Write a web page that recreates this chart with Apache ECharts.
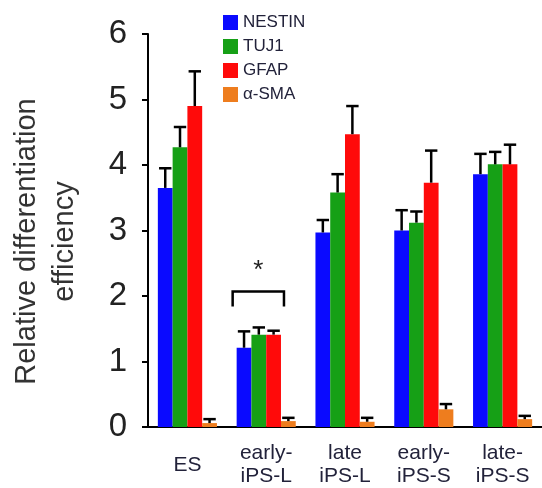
<!DOCTYPE html>
<html>
<head>
<meta charset="utf-8">
<script src="https://cdn.jsdelivr.net/npm/echarts@6/dist/echarts.min.js"></script>
<style>
  html, body { margin: 0; padding: 0; background: #fff; }
  #chart { width: 542px; height: 488px; }
</style>
</head>
<body>
<div id="chart"></div>
<script>
const categories = ['ES', 'early-\niPS-L', 'late\niPS-L', 'early-\niPS-S', 'late-\niPS-S']
const seriesNames = ['NESTIN', 'TUJ1', 'GFAP', 'α-SMA']
const colors = ['#0a0aff', '#16a016', '#ff0a0a', '#ee7d1e']

// bar means
const nestin = [3.65, 1.21, 2.97, 3.0, 3.86]
const tuj1 = [4.27, 1.41, 3.58, 3.12, 4.01]
const gfap = [4.9, 1.41, 4.47, 3.73, 4.01]
const sma = [0.06, 0.09, 0.08, 0.27, 0.12]

// top of the error bars
const nestinErr = [3.95, 1.46, 3.16, 3.31, 4.17]
const tuj1Err = [4.58, 1.52, 3.86, 3.29, 4.2]
const gfapErr = [5.43, 1.47, 4.9, 4.22, 4.31]
const smaErr = [0.12, 0.14, 0.14, 0.35, 0.17]

// significance bracket over early-iPS-L
const bracketTop = 2.07
const bracketFoot = 1.84
const starLabel = '*'

const means = [nestin, tuj1, gfap, sma]
const tops = [nestinErr, tuj1Err, gfapErr, smaErr]

const font = "'Liberation Sans', Arial, sans-serif"
const chart = echarts.init(document.getElementById('chart'))

const gapRatio = 0.25
function barShift(api, idx) {
  const catW = api.size([1, 0])[0]
  const barW = catW * (1 - gapRatio) / 4
  return { barW, dx: (idx - 1.5) * barW }
}

const barSeries = seriesNames.map((name, i) => ({
  name,
  type: 'bar',
  data: means[i],
  barGap: '0%',
  barCategoryGap: '25%',
  itemStyle: { color: colors[i] },
  z: 2
}))

const errSeries = seriesNames.map((name, i) => ({
  type: 'custom',
  name: name + '-err',
  data: means[i].map((v, k) => [k, v, tops[i][k]]),
  z: 3,
  silent: true,
  renderItem: function (params, api) {
    const s = barShift(api, i)
    const p0 = api.coord([api.value(0), api.value(1)])
    const p1 = api.coord([api.value(0), api.value(2)])
    const x = p0[0] + s.dx
    const half = s.barW * 0.42
    return {
      type: 'group',
      children: [
        { type: 'line', shape: { x1: x, y1: p0[1], x2: x, y2: p1[1] }, style: { stroke: '#000', lineWidth: 2.5 } },
        { type: 'line', shape: { x1: x - half, y1: p1[1], x2: x + half, y2: p1[1] }, style: { stroke: '#000', lineWidth: 2.5 } }
      ]
    }
  }
}))

const bracketSeries = {
  type: 'custom',
  name: 'bracket',
  data: [[1, bracketTop, bracketFoot]],
  z: 3,
  silent: true,
  renderItem: function (params, api) {
    const a = barShift(api, 0)
    const c = barShift(api, 2)
    const top = api.coord([api.value(0), api.value(1)])
    const foot = api.coord([api.value(0), api.value(2)])
    const x1 = top[0] + a.dx - a.barW / 2 - 4
    const x2 = top[0] + c.dx + c.barW / 2 + 3
    return {
      type: 'group',
      children: [
        {
          type: 'polyline',
          shape: { points: [[x1, foot[1]], [x1, top[1]], [x2, top[1]], [x2, foot[1]]] },
          style: { stroke: '#000', lineWidth: 2.5, fill: null }
        },
        {
          type: 'text',
          style: {
            text: starLabel, x: (x1 + x2) / 2, y: top[1] - 21,
            align: 'center', verticalAlign: 'middle',
            font: '26px ' + font, fill: '#222'
          }
        }
      ]
    }
  }
}

const option = {
  animation: false,
  textStyle: { fontFamily: font },
  legend: {
    data: seriesNames,
    orient: 'vertical',
    left: 218,
    top: 9,
    itemWidth: 15,
    itemHeight: 15,
    itemGap: 7,
    icon: 'rect',
    textStyle: { fontSize: 17, color: '#22223a', fontFamily: font }
  },
  grid: { left: 140, right: -4, top: 34, bottom: 60 },
  xAxis: {
    type: 'category',
    data: categories,
    axisLine: { lineStyle: { color: '#000', width: 2 } },
    axisTick: { length: 16, lineStyle: { color: '#000', width: 2 } },
    axisLabel: {
      fontSize: 21, lineHeight: 23, color: '#22223a', fontFamily: font,
      verticalAlign: 'middle', margin: 38
    }
  },
  yAxis: {
    type: 'value',
    min: 0,
    max: 6,
    interval: 1,
    name: 'Relative differentiation\nefficiency',
    nameLocation: 'middle',
    nameRotate: 90,
    nameGap: 64,
    nameTextStyle: { fontSize: 29, lineHeight: 38, color: '#333', fontFamily: font, padding: [0, 22, 0, 0] },
    axisLine: { show: true, lineStyle: { color: '#000', width: 2 } },
    axisTick: { show: true, length: 6, lineStyle: { color: '#000', width: 2 } },
    axisLabel: { fontSize: 33, color: '#222', margin: 21, fontFamily: font },
    splitLine: { show: false }
  },
  series: [...barSeries, ...errSeries, bracketSeries]
}

chart.setOption(option)
</script>
</body>
</html>
